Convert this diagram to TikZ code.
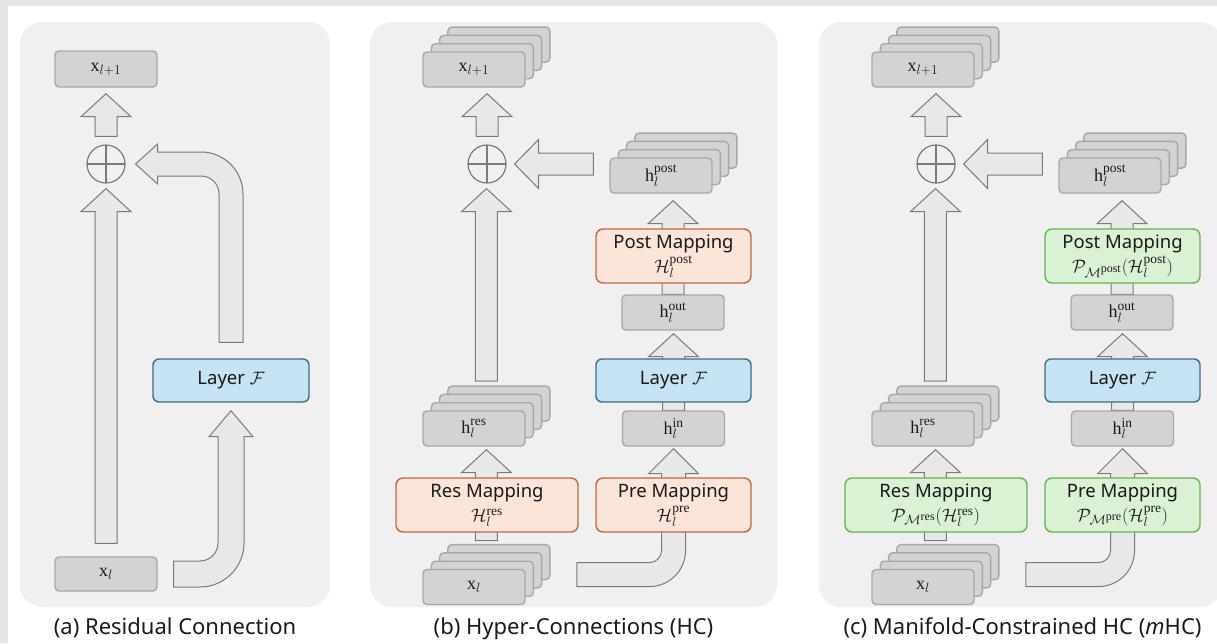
\RequirePackage{fix-cm}
\documentclass[tikz,border=0pt]{standalone}
\usepackage{amstext}
\usepackage[no-math]{fontspec}
\newfontfamily\sans{Noto Sans}
\newfontfamily\mserif{Liberation Serif}
\usetikzlibrary{calc}
\DeclareMathSizes{18}{18}{13.5}{12}
\DeclareMathSizes{18.5}{18}{13.5}{12}

% upright symbol names inside formulas
\newcommand\up[1]{\text{\mserif #1}}

\definecolor{band}{HTML}{E4E5E4}
\definecolor{panelfill}{HTML}{F0F0F0}
\definecolor{gfill}{HTML}{D3D3D3}
\definecolor{gdraw}{HTML}{A8A8A8}
\definecolor{afill}{HTML}{E8E8E8}
\definecolor{adraw}{HTML}{7A7A7A}
\definecolor{lfill}{HTML}{C5E3F2}
\definecolor{ldraw}{HTML}{3E6C82}
\definecolor{ofill}{HTML}{FBE4D8}
\definecolor{odraw}{HTML}{CB6437}
\definecolor{gefill}{HTML}{DBF1D3}
\definecolor{gedraw}{HTML}{64B54C}
\definecolor{ink}{HTML}{1A1A1A}

\pgfdeclarelayer{back}
\pgfdeclarelayer{arrows}
\pgfsetlayers{back,arrows,main}

\tikzset{
  gbox/.style={draw=gdraw, fill=gfill, line width=1.4pt, rounded corners=4pt,
    minimum width=102pt, minimum height=35pt, inner sep=0pt, text=ink,
    font=\fontsize{18}{21}\selectfont},
  layerbox/.style={draw=ldraw, fill=lfill, line width=1.4pt, rounded corners=6pt,
    minimum width=155pt, minimum height=43pt, inner sep=0pt, text=ink,
    font=\sans\fontsize{18.5}{22}\selectfont},
  mapbox/.style={line width=1.4pt, rounded corners=7pt, minimum width=155pt,
    minimum height=54pt, inner sep=0pt, align=center, text=ink,
    font=\sans\fontsize{18.5}{24}\selectfont},
  hcmap/.style={mapbox, draw=odraw, fill=ofill},
  mhcmap/.style={mapbox, draw=gedraw, fill=gefill},
  fatarrow/.style={draw=adraw, fill=afill, line width=1pt, line join=miter},
  sumnode/.style={circle, draw=adraw, line width=1.2pt, minimum size=38pt,
    inner sep=0pt, path picture={\draw[adraw, line width=1.2pt]
      (path picture bounding box.north) -- (path picture bounding box.south)
      (path picture bounding box.west) -- (path picture bounding box.east);}},
  caption/.style={anchor=base, text=ink, font=\sans\fontsize{22}{26}\selectfont},
}

% a pile of four boxes; #1 name of the front box, #2 its centre, #3 label
\newcommand\stackbox[3]{%
  \foreach \k in {3,2,1}{\node[gbox] at ($(#2)+(\k*8.3,-\k*8.3)$) {};}
  \node[gbox] (#1) at (#2) {#3};
  \coordinate (#1c) at ($(#2)+(12.45,-12.45)$);
  \coordinate (#1top) at ($(#2)+(12.45,-42.4)$);
}

% straight block arrow pointing up: from #1 (start #2 above it) to #3 (tip #4 below it)
\newcommand\fatup[4]{%
  \path[fatarrow] let \p1=(#1), \p2=(#3) in
    (\x1-11pt,\y1+#2) -- (\x1-11pt,\y2-#4-23pt) -- (\x1-25pt,\y2-#4-23pt)
    -- (\x1,\y2-#4) -- (\x1+25pt,\y2-#4-23pt) -- (\x1+11pt,\y2-#4-23pt)
    -- (\x1+11pt,\y1+#2) -- cycle;}

% straight block arrow pointing left, at the height of its target
\newcommand\fatleft[4]{%
  \path[fatarrow] let \p1=(#1), \p2=(#3) in
    (\x1-#2,\y2+11pt) -- (\x2+#4+24pt,\y2+11pt) -- (\x2+#4+24pt,\y2+24.5pt)
    -- (\x2+#4,\y2) -- (\x2+#4+24pt,\y2-24.5pt) -- (\x2+#4+24pt,\y2-11pt)
    -- (\x1-#2,\y2-11pt) -- cycle;}

% bent arrow: right from #1, then up into #3
% #5 half shaft, #6 half head, #7 head length, #8 inner radius, #9 outer radius
\newcommand\fatbendup[9]{%
  \path[fatarrow] let \p1=(#1), \p2=(#3) in
    (\x1+#2,\y1+#5) -- (\x2-#5-#8,\y1+#5) arc[start angle=270,end angle=360,radius=#8]
    -- (\x2-#5,\y2-#4-#7) -- (\x2-#6,\y2-#4-#7) -- (\x2,\y2-#4)
    -- (\x2+#6,\y2-#4-#7) -- (\x2+#5,\y2-#4-#7)
    -- (\x2+#5,\y1-#5+#9) arc[start angle=0,end angle=-90,radius=#9]
    -- (\x1+#2,\y1-#5) -- cycle;}

% bent arrow: up from #1, then left into #3
\newcommand\fatbendleft[9]{%
  \path[fatarrow] let \p1=(#1), \p2=(#3) in
    (\x1-#5,\y1+#2) -- (\x1-#5,\y2-#5-#8) arc[start angle=0,end angle=90,radius=#8]
    -- (\x2+#4+#7,\y2-#5) -- (\x2+#4+#7,\y2-#6) -- (\x2+#4,\y2)
    -- (\x2+#4+#7,\y2+#6) -- (\x2+#4+#7,\y2+#5)
    -- (\x1+#5-#9,\y2+#5) arc[start angle=90,end angle=0,radius=#9]
    -- (\x1+#5,\y1+#2) -- cycle;}

% hyper-connection panel: #1 suffix, #2 x offset, #3 mapping style,
% #4 post / #5 res / #6 pre mapping formulas, #7 caption, #8 right edge of panel
\newcommand\hcpanel[8]{%
  \begin{pgfonlayer}{back}
    \fill[panelfill, rounded corners=22pt] ({370+#2},22) rectangle (#8,607);
  \end{pgfonlayer}
  \stackbox{xout#1}{{474+#2},69.5}{$\up{x}_{l+1}$}
  \node[sumnode] (oplus#1) at ({487+#2},164) {};
  \stackbox{hpost#1}{{661+#2},175.5}{$\up{h}_l^{\up{post}}$}
  \node[#3] (post#1) at ({673.5+#2},256) {Post Mapping\\#4};
  \node[gbox] (hout#1) at ({673+#2},312.5) {$\up{h}_l^{\up{out}}$};
  \node[layerbox] (layer#1) at ({673.5+#2},380.5) {Layer $\mathcal{F}$};
  \node[gbox] (hin#1) at ({673.5+#2},428.5) {$\up{h}_l^{\up{in}}$};
  \node[#3] (pre#1) at ({673.5+#2},505) {Pre Mapping\\#6};
  \node[#3, minimum width=182pt] (res#1) at ({487+#2},505) {Res Mapping\\#5};
  \stackbox{hres#1}{{474+#2},428.5}{$\up{h}_l^{\up{res}}$}
  \stackbox{xl#1}{{474+#2},587}{$\up{x}_l$}
  \node[caption] (cap#1) at ({573.5+#2},634) {#7};
  \begin{pgfonlayer}{arrows}
    \fatup{xl#1top}{4pt}{hres#1.south}{3pt}
    \fatup{hres#1top}{5pt}{oplus#1.south}{5pt}
    \fatup{oplus#1.north}{8pt}{xout#1.south}{6pt}
    \fatup{hin#1.north}{0pt}{hout#1.south}{3pt}
    \fatup{hout#1.north}{0pt}{hpost#1.south}{7pt}
    \fatleft{hpost#1.west}{16pt}{oplus#1.east}{8pt}
    \fatbendup{xl#1c}{90.5pt}{hin#1.south}{2pt}{12pt}{25pt}{25pt}{12pt}{36pt}
  \end{pgfonlayer}
}

\begin{document}
\begin{tikzpicture}[x=1pt,y=-1pt]
  \useasboundingbox (0,0) rectangle (1217,643);
  \begin{pgfonlayer}{back}
    \fill[white] (0,0) rectangle (1217,643);
    \fill[band] (0,0) rectangle (1217,6);
    \fill[band] (0,0) rectangle (8,643);
    \fill[panelfill, rounded corners=22pt] (20,22) rectangle (330,607);
  \end{pgfonlayer}

  % (a) residual connection
  \node[gbox, minimum height=36pt] (xouta) at (106,69) {$\up{x}_{l+1}$};
  \node[sumnode] (oplusa) at (106,164) {};
  \node[layerbox, minimum width=156pt] (layera) at (231,380.5) {Layer $\mathcal{F}$};
  \node[gbox, minimum height=34pt] (xla) at (106,574) {$\up{x}_l$};
  \node[caption] (capa) at (175,634) {(a) Residual Connection};
  \begin{pgfonlayer}{arrows}
    \fatup{xla.north}{13pt}{oplusa.south}{5pt}
    \fatup{oplusa.north}{8pt}{xouta.south}{6pt}
    \fatbendup{xla.east}{16pt}{layera.south}{8pt}{13pt}{22pt}{26pt}{18pt}{44pt}
    \fatbendleft{layera.north}{16pt}{oplusa.east}{10pt}{12pt}{20pt}{22pt}{18pt}{42pt}
  \end{pgfonlayer}

  % (b) hyper-connections
  \hcpanel{b}{0}{hcmap}
    {$\mathcal{H}_l^{\up{post}}$}
    {$\mathcal{H}_l^{\up{res}}$}
    {$\mathcal{H}_l^{\up{pre}}$}
    {(b) Hyper-Connections (HC)}{777}

  % (c) manifold-constrained hyper-connections
  \hcpanel{c}{449}{mhcmap}
    {$\mathcal{P}_{\mathcal{M}^{\up{post}}}(\mathcal{H}_l^{\up{post}})$}
    {$\mathcal{P}_{\mathcal{M}^{\up{res}}}(\mathcal{H}_l^{\up{res}})$}
    {$\mathcal{P}_{\mathcal{M}^{\up{pre}}}(\mathcal{H}_l^{\up{pre}})$}
    {(c) Manifold-Constrained HC ({\itshape m}HC)}{1222}
\end{tikzpicture}
\end{document}
